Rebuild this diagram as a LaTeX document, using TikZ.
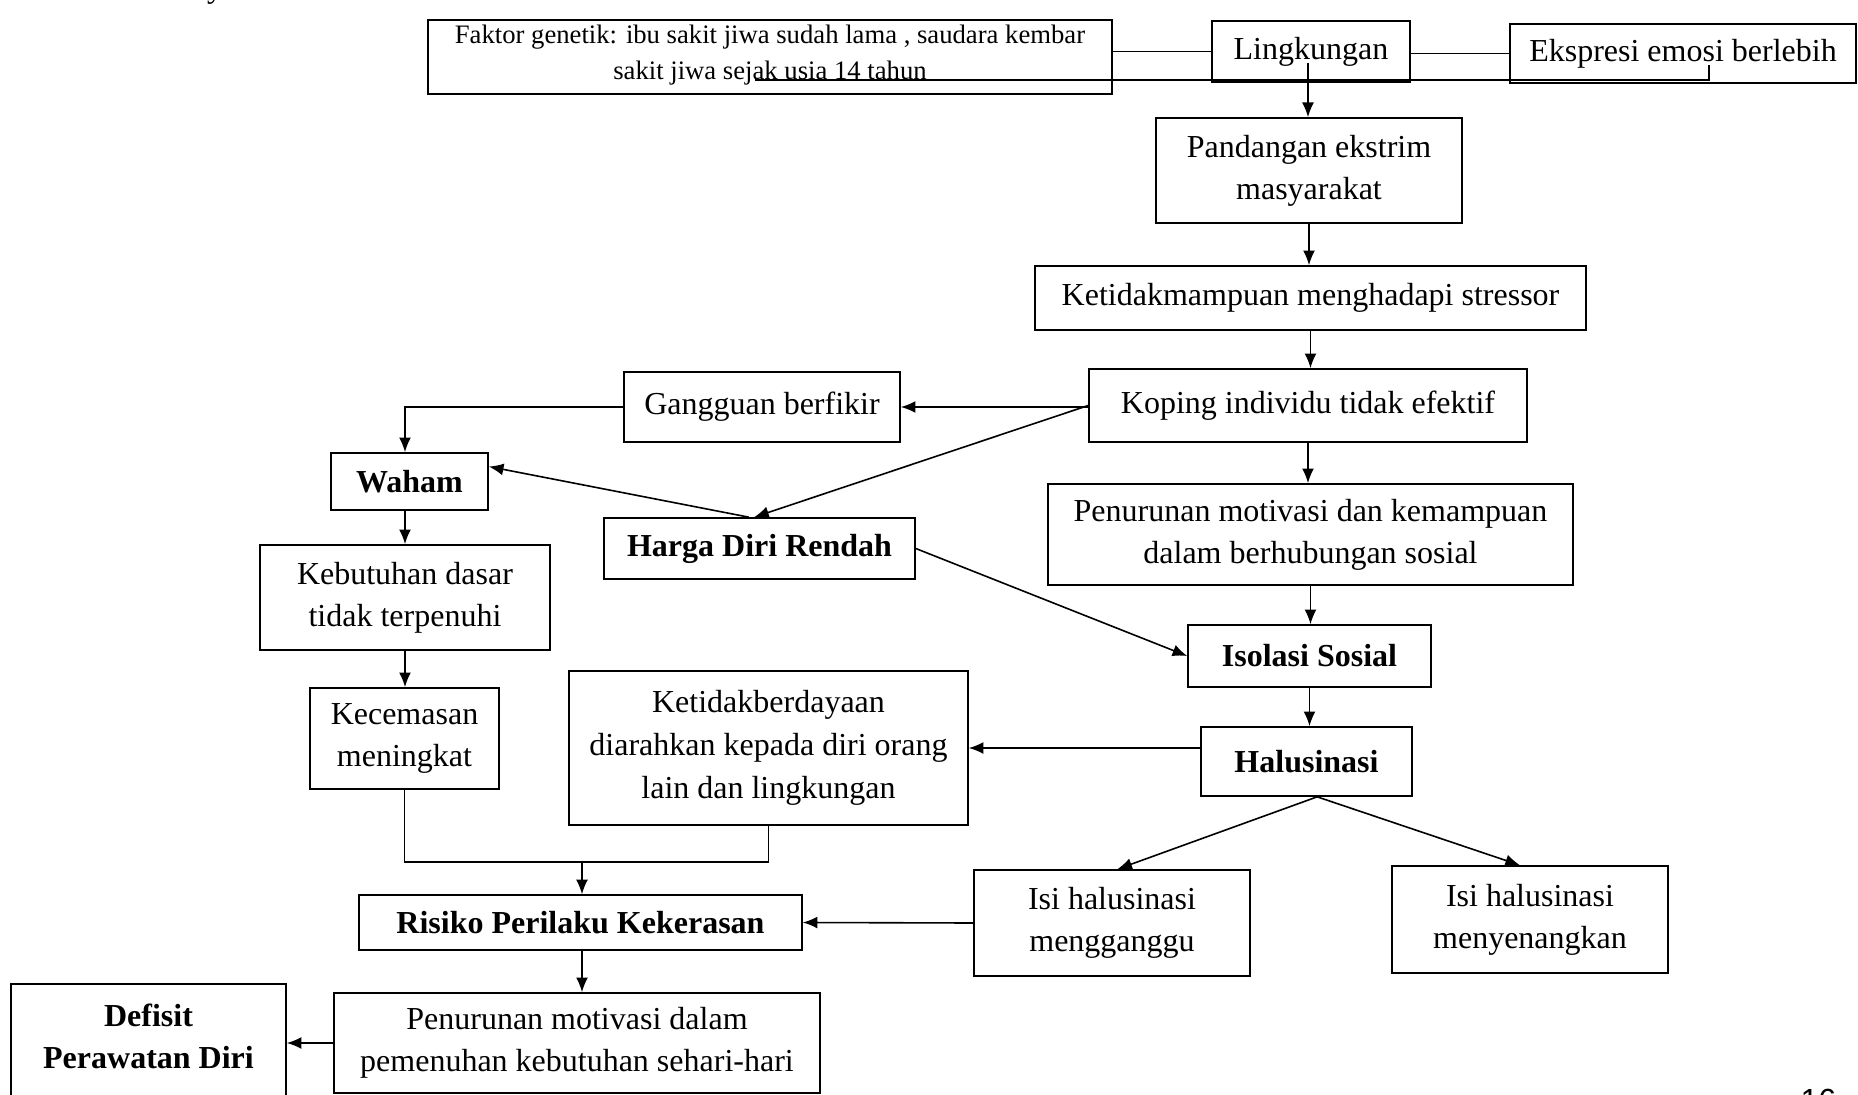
\documentclass[tikz,border=0pt]{standalone}
\usepackage{fontspec}
\setmainfont{Liberation Serif}
\newfontfamily\pagenumfont{Liberation Sans}
\usepackage{xcolor}
\usepackage{tikz}
\usetikzlibrary{arrows.meta}

\begin{document}
\begin{tikzpicture}[x=0.375pt, y=-0.375pt,
		box/.style={draw, line width=0.6pt, inner sep=0pt, align=center, font=\fontsize{12}{15.75}\selectfont},
		bbox/.style={box, font=\fontsize{12}{15.75}\selectfont\bfseries},
		arr/.style={-{Latex[length=5.5pt, width=4.5pt]}, line width=0.6pt},
		ln/.style={line width=0.6pt}]
		\useasboundingbox (0,0) rectangle (1858,1095);
		\node[anchor=base, inner sep=0pt, font=\fontsize{12}{14}\selectfont] (yfrag) at (215,-2) {y};
		\node[box, minimum width=256.5pt, minimum height=27.75pt, text depth=3.4pt, font=\fontsize{10}{13.3}\selectfont] (fak) at (770,57) {Faktor genetik: ibu sakit jiwa sudah lama , saudara kembar \\ sakit jiwa sejak usia 14 tahun};
		\node[box, minimum width=74.25pt, minimum height=22.9pt] (lin) at (1311,51.5) {Lingkungan};
		\node[box, minimum width=129.75pt, minimum height=22.1pt] (eks) at (1683,53.5) {Ekspresi emosi berlebih};
		\node[box, minimum width=114.75pt, minimum height=39.4pt] (pan) at (1309,170.5) {Pandangan ekstrim \\ masyarakat};
		\node[box, minimum width=206.6pt, minimum height=24pt] (ktm) at (1310.5,298) {Ketidakmampuan menghadapi stressor};
		\node[box, minimum width=164.25pt, minimum height=27.4pt] (kop) at (1308,405.5) {Koping individu tidak efektif};
		\node[box, minimum width=103.5pt, minimum height=26.25pt] (gan) at (762,407) {Gangguan berfikir};
		\node[bbox, minimum width=58.9pt, minimum height=21.4pt] (wah) at (409.5,481.5) {Waham};
		\node[bbox, minimum width=116.6pt, minimum height=22.9pt] (har) at (759.5,548.5) {Harga Diri Rendah};
		\node[box, minimum width=196.9pt, minimum height=37.9pt] (pn1) at (1310.5,534.5) {Penurunan motivasi dan kemampuan \\ dalam berhubungan sosial};
		\node[box, minimum width=108.75pt, minimum height=39.4pt] (keb) at (405,597.5) {Kebutuhan dasar \\ tidak terpenuhi};
		\node[bbox, minimum width=91.1pt, minimum height=23.25pt] (iso) at (1309.5,656) {Isolasi Sosial};
		\node[box, minimum width=70.9pt, minimum height=37.9pt] (kec) at (404.5,738.5) {Kecemasan \\ meningkat};
		\node[box, minimum width=149.6pt, minimum height=57.75pt, font=\fontsize{12}{16}\selectfont] (ket) at (768.5,748) {Ketidakberdayaan \\ diarahkan kepada diri orang \\ lain dan lingkungan};
		\node[bbox, minimum width=79.1pt, minimum height=25.9pt] (hal) at (1306.5,761.5) {Halusinasi};
		\node[bbox, minimum width=166.1pt, minimum height=20.6pt] (ris) at (580.5,922.5) {Risiko Perilaku Kekerasan};
		\node[box, minimum width=103.5pt, minimum height=39.75pt] (img) at (1112,923) {Isi halusinasi \\ mengganggu};
		\node[box, minimum width=103.5pt, minimum height=40.1pt] (imy) at (1530,919.5) {Isi halusinasi \\ menyenangkan};
		\node[box, minimum width=182.25pt, minimum height=37.5pt] (pn2) at (577,1043) {Penurunan motivasi dalam \\ pemenuhan kebutuhan sehari-hari};
		\node[bbox, minimum width=103.1pt, minimum height=43.5pt, text depth=4.5pt] (def) at (148.5,1042) {Defisit \\ Perawatan Diri};
		\node[anchor=north west, inner sep=0pt, font=\pagenumfont\fontsize{12}{14}\selectfont] (pg) at (1800,1089) {16};
		% loose ends of the top row
		\coordinate (lk) at (1308,63);
		\coordinate (u1) at (755,80);
		\coordinate (u2) at (1709,80);
		\coordinate (u3) at (1709,65);
		\coordinate (join) at (582,862);
		\draw[ln] (fak.east |- lin.west) -- (lin.west);
		\draw[ln] (lin.east |- eks.west) -- (eks.west);
		\draw[ln] (u1) -- (u2) -- (u3);
		\draw[arr] (lk) -- (lk |- pan.north);
		\draw[arr] (pan.south) -- (pan.south |- ktm.north);
		\draw[arr] (ktm.south) -- (ktm.south |- kop.north);
		\draw[arr] (kop.south) -- (kop.south |- pn1.north);
		\draw[arr] (pn1.south) -- (pn1.south |- iso.north);
		\draw[arr] (iso.south) -- (iso.south |- hal.north);
		\draw[arr] (kop.west |- gan.east) -- (gan.east);
		\draw[arr] (kop.west) -- ([xshift=-2pt]har.north);
		\draw[arr] ([xshift=-4pt]har.north) -- ([yshift=5.6pt]wah.east);
		\draw[arr] (har.east) -- (iso.west);
		\draw[arr] (gan.west) -| (keb.north |- wah.north);
		\draw[arr] (keb.north |- wah.south) -- (keb.north);
		\draw[arr] (keb.south) -- (keb.south |- kec.north);
		% both branches meet above Risiko
		\draw[ln] (kec.south) -- (kec.south |- join) -- (ket.south |- join) -- (ket.south);
		\draw[arr] (join) -- (join |- ris.north);
		\draw[arr] (hal.west |- ket.east) -- (ket.east);
		\draw[arr] ([xshift=4pt]hal.south) -- ([xshift=2pt]img.north);
		\draw[arr] ([xshift=4pt]hal.south) -- ([xshift=-3.75pt]imy.north);
		\draw[arr] (img.west) -- (ris.east);
		\draw[arr] (join |- ris.south) -- (join |- pn2.north);
		\draw[arr] (pn2.west) -- (def.east |- pn2.west);
\end{tikzpicture}
\end{document}
